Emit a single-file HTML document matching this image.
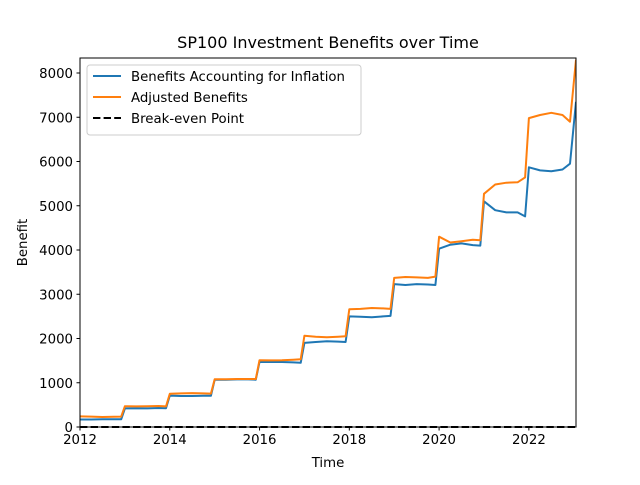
<!DOCTYPE html>
<html><head><meta charset="utf-8"><style>
body{margin:0;background:#fff;font-family:"Liberation Sans","DejaVu Sans",sans-serif;}
</style></head><body>
<svg id="chart" width="640" height="480" xmlns="http://www.w3.org/2000/svg" font-family="DejaVu Sans, Liberation Sans, sans-serif"></svg>
<script>
const years = [2012,2013,2014,2015,2016,2017,2018,2019,2020,2021,2022];
const subOffsets = [0,0.25,0.5,0.75,0.917];
const inflationBenefits = [
 [170,170,175,175,175],[420,425,420,430,425],[710,700,700,705,705],[1070,1070,1075,1075,1070],
 [1470,1470,1470,1460,1450],[1900,1920,1940,1930,1920],[2500,2490,2480,2500,2510],[3230,3210,3230,3220,3210],
 [4030,4120,4150,4110,4100],[5100,4900,4850,4850,4760],[5870,5800,5780,5820,5950]];
const adjustedBenefits = [
 [240,235,225,230,235],[470,465,470,475,465],[750,760,765,760,755],[1080,1080,1085,1085,1085],
 [1510,1505,1510,1520,1530],[2060,2040,2030,2040,2050],[2660,2670,2690,2680,2670],[3370,3390,3380,3370,3400],
 [4300,4170,4200,4230,4220],[5270,5480,5520,5530,5640],[6980,7050,7100,7050,6900]];
const finalInflation = 7350, finalAdjusted = 8300, finalTime = 2023.05;
const xTicks = [2012,2014,2016,2018,2020,2022];
const yTicks = [0,1000,2000,3000,4000,5000,6000,7000,8000];
const breakEven = 0;

const L=80,R=576,T=58,B=427;
const xMin=2012,xMax=2023.05,yMin=0,yMax=8339;
const X=v=>L+(v-xMin)/(xMax-xMin)*(R-L);
const Y=v=>B-(v-yMin)/(yMax-yMin)*(B-T);
const svg=document.getElementById('chart');
const NS='http://www.w3.org/2000/svg';
function mk(t,a,p){const e=document.createElementNS(NS,t);for(const k in a)e.setAttribute(k,a[k]);(p||svg).appendChild(e);return e;}

function pts(arr,fin){const p=[];years.forEach((y,i)=>subOffsets.forEach((o,j)=>p.push([X(y+o),Y(arr[i][j])])));p.push([X(finalTime),Y(fin)]);return p.map(q=>q[0].toFixed(1)+','+q[1].toFixed(1)).join(' ');}

const clip=mk('clipPath',{id:'pc'});mk('rect',{x:L,y:T,width:R-L,height:B-T},clip);

let e=mk('polyline',{points:pts(inflationBenefits,finalInflation),fill:'none',stroke:'#1f77b4','stroke-width':2,'stroke-linejoin':'round','clip-path':'url(#pc)'});

e=mk('polyline',{points:pts(adjustedBenefits,finalAdjusted),fill:'none',stroke:'#ff7f0e','stroke-width':2,'stroke-linejoin':'round','clip-path':'url(#pc)'});

e=mk('line',{x1:L,x2:R,y1:Y(breakEven),y2:Y(breakEven),stroke:'#000','stroke-width':2,'stroke-dasharray':'7.4,3.2'});


e=mk('rect',{x:L,y:T,width:R-L,height:B-T,fill:'none',stroke:'#000','stroke-width':1});


xTicks.forEach(t=>{const x=X(t);mk('line',{x1:x,x2:x,y1:B,y2:B+3.5,stroke:'#000'});
 const tx=mk('text',{x:x,y:B+17,'text-anchor':'middle','font-size':'13.3'});tx.textContent=t;
 });
yTicks.forEach(t=>{const y=Y(t);mk('line',{x1:L-3.5,x2:L,y1:y,y2:y,stroke:'#000'});
 const tx=mk('text',{x:L-7,y:y+5,'text-anchor':'end','font-size':'13.3'});tx.textContent=t;
 });

e=mk('text',{x:(L+R)/2,y:48,'text-anchor':'middle','font-size':'16'});e.textContent='SP100 Investment Benefits over Time';

e=mk('text',{x:(L+R)/2,y:467,'text-anchor':'middle','font-size':'13.3'});e.textContent='Time';

e=mk('text',{x:27,y:(T+B)/2,'text-anchor':'middle','font-size':'13.3',transform:`rotate(-90 27 ${(T+B)/2})`});e.textContent='Benefit';


const lg=mk('g',{});
mk('rect',{x:87,y:65,width:274,height:70,rx:3,fill:'#fff','fill-opacity':0.8,stroke:'#ccc'},lg);
const entries=[['Benefits Accounting for Inflation','#1f77b4',null],['Adjusted Benefits','#ff7f0e',null],['Break-even Point','#000','7.4,3.2']];
entries.forEach((en,i)=>{const y=76+i*21;const g=mk('g',{},lg);
 
 const a={x1:93,x2:121,y1:y,y2:y,stroke:en[1],'stroke-width':2};if(en[2])a['stroke-dasharray']=en[2];mk('line',a,g);
 const t=mk('text',{x:131,y:y+5,'font-size':'13.3'},g);t.textContent=en[0];});
</script>
</body></html>
